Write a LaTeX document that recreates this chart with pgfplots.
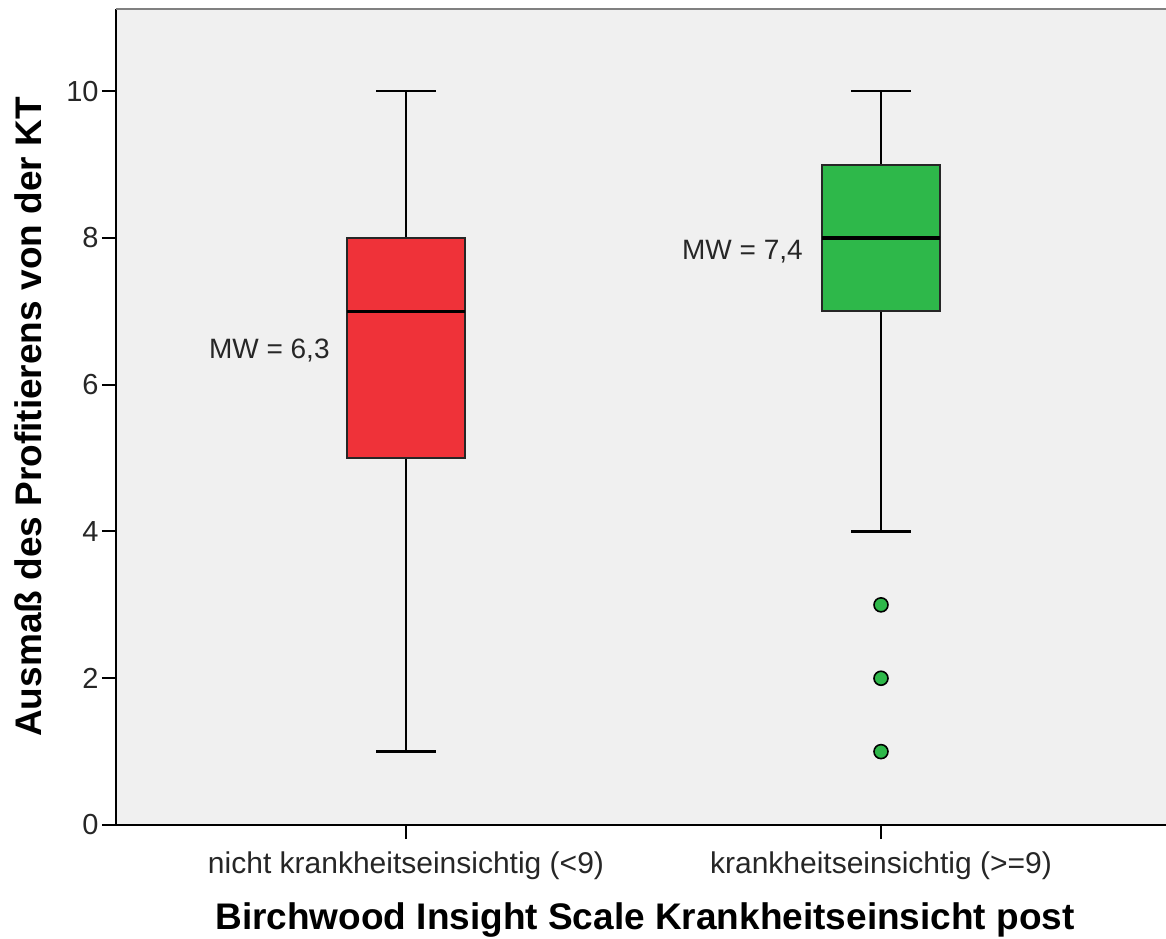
\documentclass[border=0pt]{standalone}
\usepackage{pgfplots}
\pgfplotsset{compat=1.18}
\usepgfplotslibrary{statistics}
\usepackage{fontspec}
\setmainfont{Liberation Sans}
\definecolor{bgc}{RGB}{240,240,240}
\definecolor{boxred}{RGB}{239,50,57}
\definecolor{boxgreen}{RGB}{46,184,74}
\begin{document}
\begin{tikzpicture}
\begin{axis}[
  name=ax,
  scale only axis,
  width=525pt, height=408pt,
  xmin=0.3895, xmax=2.6, ymin=0, ymax=11.12,
  axis background/.style={fill=bgc},
  axis x line*=bottom, axis y line*=left,
  axis line style={black, line width=1pt},
  xtick={1,2},
  xticklabels={nicht krankheitseinsichtig (<9), krankheitseinsichtig (>=9)},
  ytick={0,2,4,6,8,10},
  tick align=outside,
  major tick length=7pt,
  tick style={black, line width=1pt},
  /pgf/number format/assume math mode=true,
  tick label style={font=\fontsize{14.5}{17}\selectfont, color=black!85},
  yticklabel style={anchor=east, inner sep=0pt, xshift=-1.5pt},
  xticklabel style={anchor=base, inner sep=0pt, yshift=-17pt, font=\fontsize{15}{17}\selectfont},
  xlabel={Birchwood Insight Scale Krankheitseinsicht post},
  ylabel={Ausmaß des Profitierens von der KT},
  label style={font=\bfseries\fontsize{18.5}{22}\selectfont},
  xlabel style={at={(axis description cs:0.5,0)}, anchor=base, inner sep=0pt, yshift=-52pt, xshift=2pt},
  ylabel style={at={(axis description cs:0,0.5)}, anchor=north, inner sep=0pt, yshift=51pt},
  boxplot/draw direction=y,
  boxplot/every median/.style={line width=1.8pt, black},
  boxplot/every whisker/.style={line width=1.3pt, black},
  boxplot/every box/.style={line width=1pt, draw=black!85},
  clip=false,
]
\addplot[boxplot prepared={draw position=1, lower whisker=1, lower quartile=5, median=7, upper quartile=8, upper whisker=10, box extend=0.25, whisker extend=0.126},
  draw=black, fill=boxred, solid, line width=1.3pt] coordinates {};
\addplot[boxplot prepared={draw position=2, lower whisker=4, lower quartile=7, median=8, upper quartile=9, upper whisker=10, box extend=0.25, whisker extend=0.126},
  draw=black, fill=boxgreen, solid, line width=1.3pt, mark=*, mark size=3.5pt, mark options={fill=boxgreen, draw=black, line width=0.8pt}]
  table[row sep=\\, y index=0] {data\\ 3\\ 2\\ 1\\};
\node[anchor=east, font=\fontsize{14}{17}\selectfont, text=black!85, inner sep=0pt] at (axis cs:0.84,6.47) {MW = 6,3};
\node[anchor=east, font=\fontsize{14}{17}\selectfont, text=black!85, inner sep=0pt] at (axis cs:1.836,7.81) {MW = 7,4};
\end{axis}
\draw[black!50, line width=1pt] (ax.north west) -- (ax.north east);
\pgfresetboundingbox
\path[use as bounding box] ([xshift=-58pt,yshift=-56.5pt]ax.south west) rectangle ([yshift=4.5pt]ax.north east);
\end{tikzpicture}
\end{document}
